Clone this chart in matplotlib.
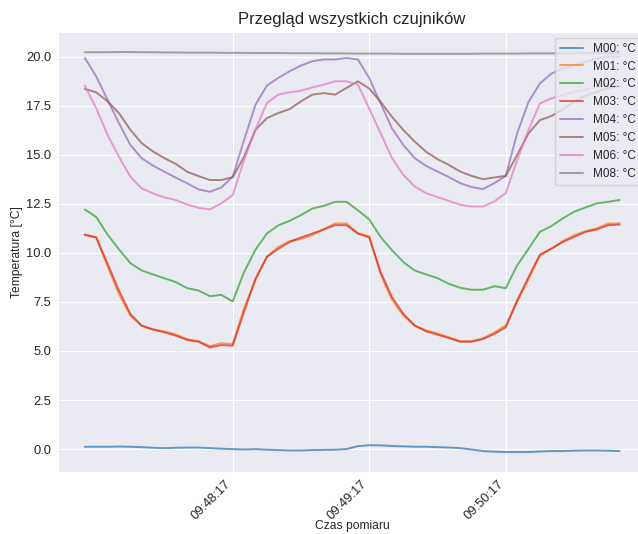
import numpy as np
import pandas as pd
import matplotlib
matplotlib.use("Agg")
import matplotlib.pyplot as plt
import seaborn as sns

sns.set_style("darkgrid")
plt.rcParams['font.family'] = ['Liberation Sans', 'DejaVu Sans']

# znaczniki czasu co 5 s
czas = pd.date_range("2024-01-01 09:47:12", periods=48, freq="5s").strftime("%H:%M:%S").tolist()

m00 = [0.12, 0.12, 0.12, 0.13, 0.12, 0.10, 0.07, 0.05, 0.07, 0.08, 0.08, 0.05,
       0.02, 0.00, -0.02, 0.00, -0.03, -0.05, -0.07, -0.07, -0.05, -0.04, -0.03, 0.00,
       0.15, 0.20, 0.19, 0.16, 0.14, 0.12, 0.12, 0.10, 0.08, 0.05, -0.02, -0.10,
       -0.13, -0.15, -0.15, -0.15, -0.12, -0.10, -0.10, -0.08, -0.07, -0.07, -0.08, -0.10]
m01 = [10.9, 10.8, 9.3, 7.9, 6.8, 6.3, 6.1, 6.0, 5.85, 5.6, 5.5, 5.25,
       5.4, 5.35, 7.2, 8.6, 9.8, 10.3, 10.6, 10.7, 10.9, 11.2, 11.5, 11.5,
       11.0, 10.85, 8.9, 7.6, 6.8, 6.3, 6.05, 5.9, 5.7, 5.5, 5.5, 5.65,
       5.95, 6.3, 7.5, 8.65, 9.85, 10.2, 10.6, 10.9, 11.1, 11.25, 11.5, 11.5]
m02 = [12.21, 11.83, 10.93, 10.18, 9.48, 9.10, 8.90, 8.70, 8.51, 8.20, 8.08, 7.79,
       7.86, 7.52, 9.02, 10.16, 10.98, 11.40, 11.63, 11.92, 12.26, 12.39, 12.60, 12.60,
       12.17, 11.70, 10.81, 10.13, 9.53, 9.10, 8.90, 8.71, 8.42, 8.22, 8.12, 8.12,
       8.30, 8.20, 9.36, 10.21, 11.07, 11.36, 11.75, 12.09, 12.31, 12.52, 12.60, 12.69]
m03 = [10.93, 10.78, 9.45, 8.08, 6.89, 6.28, 6.09, 5.95, 5.78, 5.56, 5.47, 5.18,
       5.30, 5.27, 7.00, 8.68, 9.79, 10.20, 10.55, 10.78, 10.98, 11.19, 11.41, 11.41,
       10.98, 10.78, 9.02, 7.74, 6.89, 6.29, 6.00, 5.83, 5.66, 5.47, 5.47, 5.61,
       5.87, 6.21, 7.57, 8.76, 9.91, 10.21, 10.55, 10.81, 11.07, 11.19, 11.41, 11.44]
m04 = [19.93, 18.99, 17.80, 16.61, 15.50, 14.82, 14.44, 14.13, 13.83, 13.54, 13.23, 13.11,
       13.33, 13.88, 15.75, 17.54, 18.52, 18.91, 19.25, 19.54, 19.76, 19.85, 19.85, 19.93,
       19.85, 18.90, 17.61, 16.34, 15.49, 14.82, 14.43, 14.14, 13.86, 13.55, 13.35, 13.25,
       13.55, 13.92, 16.09, 17.69, 18.63, 19.13, 19.39, 19.56, 19.72, 19.90, 19.98, 20.00]
m05 = [18.35, 18.18, 17.72, 17.12, 16.27, 15.59, 15.16, 14.82, 14.53, 14.13, 13.91, 13.71,
       13.71, 13.85, 14.90, 16.27, 16.86, 17.12, 17.32, 17.72, 18.06, 18.14, 18.06, 18.40,
       18.74, 18.37, 17.69, 16.93, 16.26, 15.66, 15.15, 14.77, 14.48, 14.14, 13.92, 13.75,
       13.84, 13.92, 14.99, 16.09, 16.76, 16.97, 17.30, 17.70, 18.00, 18.20, 18.40, 18.50]
m06 = [18.52, 17.37, 16.01, 14.90, 13.88, 13.28, 13.03, 12.82, 12.69, 12.46, 12.29, 12.21,
       12.52, 12.94, 14.73, 16.27, 17.63, 18.06, 18.18, 18.26, 18.43, 18.57, 18.74, 18.74,
       18.57, 17.35, 16.09, 14.82, 13.97, 13.38, 13.04, 12.84, 12.65, 12.45, 12.36, 12.36,
       12.62, 13.04, 14.73, 16.26, 17.61, 17.87, 18.03, 18.20, 18.32, 18.46, 18.54, 18.63]
m08 = [20.22, 20.22, 20.22, 20.23, 20.23, 20.22, 20.22, 20.21, 20.21, 20.20, 20.20, 20.20,
       20.19, 20.19, 20.19, 20.18, 20.18, 20.18, 20.17, 20.17, 20.17, 20.16, 20.16, 20.16,
       20.15, 20.15, 20.15, 20.15, 20.14, 20.14, 20.14, 20.14, 20.14, 20.14, 20.14, 20.15,
       20.15, 20.15, 20.15, 20.16, 20.16, 20.16, 20.17, 20.17, 20.17, 20.18, 20.18, 20.18]

czujniki = ["M00", "M01", "M02", "M03", "M04", "M05", "M06", "M08"]
serie = [m00, m01, m02, m03, m04, m05, m06, m08]
kolory = ["C0", "C1", "C2", "C3", "C4", "C5", "C6", "C7"]
znaczniki = ["09:48:17", "09:49:17", "09:50:17"]

fig = plt.figure(figsize=(6.38, 5.34), dpi=100)
ax = fig.add_axes([0.091, 0.116, 0.922, 0.824])

for nazwa, s, k in zip(czujniki, serie, kolory):
    ax.plot(czas, s, color=k, alpha=0.7, lw=1.4, label=nazwa + ": °C")

ax.set_xticks(znaczniki)
plt.setp(ax.get_xticklabels(), rotation=45, ha="right")
ax.tick_params(labelsize=9.3)
ax.tick_params(axis="y", pad=1.5)
ax.tick_params(axis="x", pad=0.5)
ax.set_title("Przegląd wszystkich czujników", fontsize=12)
ax.set_xlabel("Czas pomiaru", fontsize=8.7, labelpad=-1)
ax.set_ylabel("Temperatura [°C]", fontsize=8.7, labelpad=2)
ax.legend(loc="upper right", fontsize=8.5)

fig.savefig("out.png", dpi=100)
